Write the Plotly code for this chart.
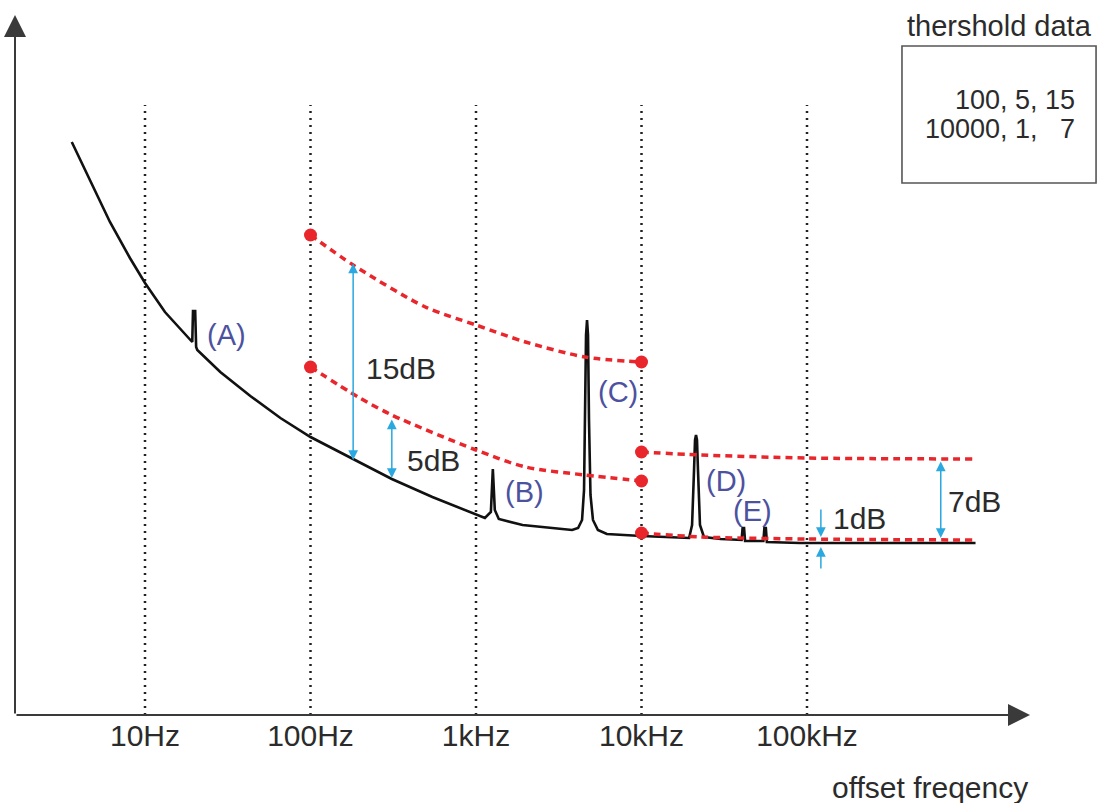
import numpy as np
import plotly.graph_objects as go

# ---------------- data ----------------
decade_freqs = [10, 100, 1000, 10000, 100000]
decade_labels = ["10Hz", "100Hz", "1kHz", "10kHz", "100kHz"]

# phase-noise curve with spurs (A)..(E); level in dB (relative units)
noise_freq_hz = [3.61, 4.64, 6.14, 8.11, 10, 13.2, 17.5, 19.3, 19.5, 20.1, 20.37, 20.7,
                 28.5, 43.3, 65.8, 100, 176, 310, 545, 1000, 1132, 1230, 1247, 1264,
                 1282, 1299, 1373, 1911, 3319, 3809, 4139, 4373, 4496, 4559, 4622, 4687,
                 4751, 4817, 4918, 5091, 5452, 6172, 7592, 10000, 19390, 20210, 20770,
                 21060, 21350, 21640, 21940, 22560, 23840, 30130, 40250, 40810, 41660,
                 42240, 54510, 55270, 56420, 57200, 90800, 1043000]
noise_level = [57.3, 53.5, 49.3, 45.7, 43.2, 40.3, 38.1, 37.3, 40.4, 40.4, 36.8, 36.5,
               34.3, 31.9, 29.7, 27.8, 25.7, 23.6, 21.8, 20.1, 19.7, 20.3, 22.5, 24.6,
               22.5, 20.5, 19.6, 19.0, 18.6, 18.5, 18.7, 19.5, 22.5, 29.5, 38.0, 39.5,
               38.0, 29.5, 22.0, 19.5, 18.5, 18.1, 18.0, 17.9, 17.7, 19.0, 24.5,
               27.5, 28.0, 27.5, 24.5, 19.0, 17.8, 17.6, 17.5, 18.7, 18.7,
               17.4, 17.4, 18.7, 18.7, 17.3, 17.2, 17.2]

# threshold curves: "100, 5, 15" and "10000, 1, 7"
thr_a_upper_freq = [100, 181, 494, 1000, 1992, 4559, 10000]
thr_a_upper = [48.0, 45.0, 40.8, 39.0, 37.3, 35.8, 35.3]   # +15 dB
thr_a_lower_freq = [100, 194, 310, 1000, 1992, 4559, 10000]
thr_a_lower = [34.8, 31.8, 30.0, 26.5, 24.8, 24.0, 23.4]   # +5 dB
thr_b_freq = [10000, 22870, 100000, 1043000]
thr_b_upper = [26.3, 26.0, 25.7, 25.6]                      # +7 dB
thr_b_lower = [18.2, 17.8, 17.6, 17.5]                      # +1 dB

# margin arrows: frequency, level from, level to, label, label freq, label level
margin_freq = [181, 310, 643000]
margin_from = [45.3, 29.7, 25.5]
margin_to = [25.5, 23.7, 17.7]
margin_text = ["15dB", "5dB", "7dB"]
margin_text_freq = [352, 552, 1028000]
margin_text_level = [34.7, 25.5, 21.4]

onedb_freq = 121300
onedb_down = [20.7, 17.8]
onedb_up = [14.5, 16.8]
onedb_text_freq = 207700
onedb_text_level = 19.7

spur_labels = ["(A)", "(B)", "(C)", "(D)", "(E)"]
spur_label_freq = [31.0, 1966, 7183, 32280, 46860]
spur_label_level = [38.0, 22.3, 32.3, 23.4, 20.4]

table_title = "thershold data"
table_rows = ["100, 5, 15", "10000, 1,   7"]

# ---------------- figure ----------------
RED = "#e8262b"
BLUE = "#2aa8df"
LABEL_BLUE = "#4d529f"
TXT = "#2b2b2b"
FONT = "Liberation Sans, Arial, sans-serif"

fig = go.Figure()

# vertical dotted decade lines
for f in decade_freqs:
    fig.add_trace(go.Scatter(x=[f, f], y=[0, 61], mode="lines",
                             line=dict(color="#222", width=2.5, dash="2px,5px"),
                             hoverinfo="skip", showlegend=False))

# noise curve
fig.add_trace(go.Scatter(x=noise_freq_hz, y=noise_level, mode="lines",
                         line=dict(color="#111", width=2.6),
                         showlegend=False))

# threshold dashed lines
for fx, fy in [(thr_a_upper_freq, thr_a_upper), (thr_a_lower_freq, thr_a_lower),
               (thr_b_freq, thr_b_upper), (thr_b_freq, thr_b_lower)]:
    fig.add_trace(go.Scatter(x=fx, y=fy, mode="lines", line_shape="spline",
                             line=dict(color=RED, width=3.5, dash="7px,5px", smoothing=0.8),
                             showlegend=False))

# red end-point dots
dot_x = [thr_a_upper_freq[0], thr_a_lower_freq[0], thr_a_upper_freq[-1], thr_a_lower_freq[-1],
         thr_b_freq[0], thr_b_freq[0]]
dot_y = [thr_a_upper[0], thr_a_lower[0], thr_a_upper[-1], thr_a_lower[-1],
         thr_b_upper[0], thr_b_lower[0]]
fig.add_trace(go.Scatter(x=dot_x, y=dot_y, mode="markers",
                         marker=dict(color=RED, size=13), showlegend=False))

ann = []
# double-headed margin arrows
for f, y0, y1, t, tf, tl in zip(margin_freq, margin_from, margin_to, margin_text,
                                 margin_text_freq, margin_text_level):
    lf = float(np.log10(f))
    ann.append(dict(x=lf, y=y1, ax=lf, ay=y0, xref="x", yref="y", axref="x", ayref="y",
                    text="", showarrow=True, arrowhead=2, arrowside="end+start",
                    arrowwidth=1.5, arrowsize=1.3, arrowcolor=BLUE, standoff=0,
                    startstandoff=0))
    ann.append(dict(x=float(np.log10(tf)), y=tl, xref="x", yref="y", text=t,
                    showarrow=False, xanchor="center", yanchor="middle",
                    font=dict(size=30, color=TXT, family=FONT)))

# 1 dB arrows (pointing at each other)
lf1 = float(np.log10(onedb_freq))
for seg in (onedb_down, onedb_up):
    ann.append(dict(x=lf1, y=seg[1], ax=lf1, ay=seg[0], xref="x", yref="y",
                    axref="x", ayref="y", text="", showarrow=True, arrowhead=2,
                    arrowwidth=1.5, arrowsize=1.3, arrowcolor=BLUE, standoff=0))
ann.append(dict(x=float(np.log10(onedb_text_freq)), y=onedb_text_level, xref="x", yref="y",
                text="1dB", showarrow=False, xanchor="center", yanchor="middle",
                font=dict(size=30, color=TXT, family=FONT)))

# spur labels
for t, f, l in zip(spur_labels, spur_label_freq, spur_label_level):
    ann.append(dict(x=float(np.log10(f)), y=l, xref="x", yref="y", text=t,
                    showarrow=False, xanchor="center", yanchor="middle",
                    font=dict(size=29, color=LABEL_BLUE, family=FONT)))

# axis arrows
ann.append(dict(x=0.9372, y=0, xref="paper", yref="paper", ax=-1015, ay=0,
                axref="pixel", ayref="pixel", text="", showarrow=True, arrowhead=2,
                arrowwidth=2, arrowsize=2.2, arrowcolor="#3a3a3a", standoff=0))
ann.append(dict(x=0, y=0.979, xref="paper", yref="paper", ax=0, ay=700,
                axref="pixel", ayref="pixel", text="", showarrow=True, arrowhead=2,
                arrowwidth=2, arrowsize=2.2, arrowcolor="#3a3a3a", standoff=0))

# axis title
ann.append(dict(x=0.845, y=-0.102, xref="paper", yref="paper", text="offset freqency",
                showarrow=False, xanchor="center", yanchor="middle",
                font=dict(size=30, color=TXT, family=FONT)))

# threshold table
ann.append(dict(x=0.9086, y=0.9636, xref="paper", yref="paper", text=table_title,
                showarrow=False, xanchor="center", yanchor="middle",
                font=dict(size=29, color=TXT, family=FONT)))
for i, row in enumerate(table_rows):
    ann.append(dict(x=0.9806, y=0.8601 - i * 0.0405, xref="paper", yref="paper",
                    text=row.replace(" ", "\u00a0"), xanchor="right", yanchor="middle",
                    showarrow=False, font=dict(size=27, color=TXT, family=FONT)))

fig.add_shape(type="rect", xref="paper", yref="paper", x0=0.8190, x1=0.9982,
              y0=0.7441, y1=0.9357, line=dict(color="#555", width=1.6))

fig.update_layout(
    width=1098, height=803,
    margin=dict(l=15, r=0, t=0, b=88),
    plot_bgcolor="white", paper_bgcolor="white",
    annotations=ann,
    xaxis=dict(type="log", range=[0.2145, 6.7583], tickvals=decade_freqs,
               ticktext=decade_labels, showgrid=False, zeroline=False, showline=False,
               ticks="", tickfont=dict(size=30, color=TXT, family=FONT)),
    yaxis=dict(range=[0, 71.5], showgrid=False, zeroline=False, showline=False,
               showticklabels=False, ticks=""),
    showlegend=False,
)

fig.write_html("out.html", config={"displayModeBar": False},
               post_script="document.body.style.margin='0';document.body.style.overflow='hidden';")
